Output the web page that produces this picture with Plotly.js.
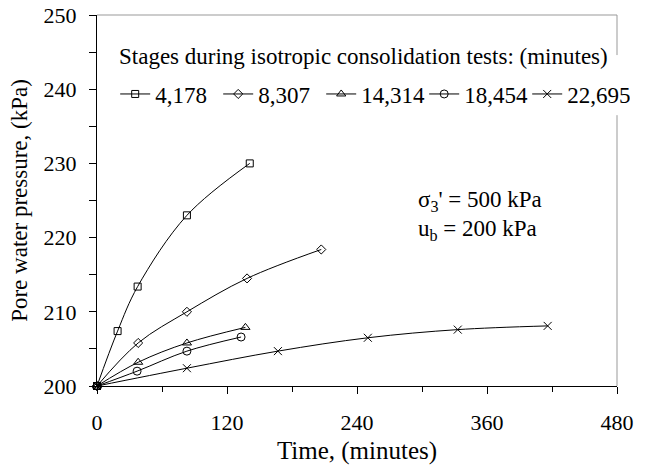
<!DOCTYPE html>
<html>
<head>
<meta charset="utf-8">
<script src="https://cdn.plot.ly/plotly-3.0.1.min.js"></script>
<style>html,body{margin:0;padding:0;background:#fff;}#chart{width:646px;height:469px;}</style>
</head>
<body>
<div id="chart"></div>
<script>
// Data
const seriesNames = ["4,178", "8,307", "14,314", "18,454", "22,695"];
const legendTitle = "Stages during isotropic consolidation tests: (minutes)";
const time1 = [0, 19, 37.5, 83, 141];
const pwp1  = [200, 207.4, 213.4, 223.0, 230.0];
const time2 = [0, 38, 83, 138.5, 207];
const pwp2  = [200, 205.8, 210.0, 214.5, 218.4];
const time3 = [0, 38, 83, 137];
const pwp3  = [200, 203.2, 205.8, 207.9];
const time4 = [0, 37, 83, 133];
const pwp4  = [200, 202.0, 204.7, 206.6];
const time5 = [0, 83, 167, 250, 333, 416];
const pwp5  = [200, 202.4, 204.7, 206.5, 207.6, 208.1];
const xTicks = [0, 120, 240, 360, 480];
const yTicks = [200, 210, 220, 230, 240, 250];

const FONT = "Liberation Serif";
const symbols = ["square-open", "diamond-open", "triangle-up-open", "circle-open", "x-thin-open"];
const sizes = [7, 7, 8, 8, 8];
const xs = [time1, time2, time3, time4, time5];
const ys = [pwp1, pwp2, pwp3, pwp4, pwp5];

const traces = xs.map((x, i) => ({
  x: x, y: ys[i], name: seriesNames[i], type: "scatter", mode: "lines+markers",
  line: {color: "#000", width: 1, shape: "spline", smoothing: 1},
  marker: {symbol: symbols[i], size: sizes[i], color: "#000", line: {color: "#000", width: 1}},
  cliponaxis: false
}));

const layout = {
  width: 646, height: 469,
  margin: {l: 97, r: 29, t: 15, b: 83, autoexpand: false},
  paper_bgcolor: "#fff", plot_bgcolor: "#fff",
  font: {family: FONT, size: 22, color: "#000"},
  showlegend: true,
  legend: {
    orientation: "h", x: 0.035, y: 0.845, xanchor: "left", yanchor: "top",
    bgcolor: "rgba(0,0,0,0)", borderwidth: 0, entrywidth: 58, entrywidthmode: "pixels",
    font: {family: FONT, size: 23, color: "#000"}
  },
  xaxis: {
    range: [0, 480], tickvals: xTicks, ticktext: xTicks.map(String),
    showgrid: false, zeroline: false, showline: true, linecolor: "#000", linewidth: 1,
    ticks: "outside", ticklen: 7, tickcolor: "#000", tickwidth: 1,
    minor: {dtick: 60, tick0: 0, ticks: "outside", ticklen: 5, tickcolor: "#000", tickwidth: 1, showgrid: false},
    ticklabelstandoff: 10, tickangle: 0, automargin: false,
    tickfont: {family: FONT, size: 22},
    title: {text: "Time, (minutes)", font: {family: FONT, size: 25}, standoff: 7}
  },
  xaxis2: {
    range: [0, 480], overlaying: "x", anchor: "y", side: "bottom",
    tickvals: xTicks, showticklabels: false, showgrid: false, zeroline: false, showline: false,
    ticks: "inside", ticklen: 7, tickcolor: "#000", tickwidth: 1
  },
  yaxis: {
    range: [200, 250], tickvals: yTicks, ticktext: yTicks.map(String),
    showgrid: false, zeroline: false, showline: true, linecolor: "#000", linewidth: 1,
    ticks: "outside", ticklen: 7, tickcolor: "#000", tickwidth: 1,
    minor: {dtick: 5, tick0: 200, ticks: "outside", ticklen: 7, tickcolor: "#000", tickwidth: 1, showgrid: false},
    ticklabelstandoff: 8, automargin: false,
    tickfont: {family: FONT, size: 22},
    title: {text: "Pore water pressure, (kPa)", font: {family: FONT, size: 23}, standoff: 9}
  },
  yaxis2: {
    range: [200, 250], overlaying: "y", anchor: "x", side: "left",
    tickvals: yTicks, showticklabels: false, showgrid: false, zeroline: false, showline: false,
    ticks: "inside", ticklen: 7, tickcolor: "#000", tickwidth: 1
  },
  shapes: [
    {type: "line", xref: "paper", yref: "paper", x0: 0, x1: 1, y0: 1, y1: 1, line: {color: "#999", width: 1}},
    {type: "line", xref: "paper", yref: "paper", x0: 1, x1: 1, y0: 0.892, y1: 1, line: {color: "#999", width: 1}},
    {type: "line", xref: "paper", yref: "paper", x0: 1, x1: 1, y0: 0, y1: 0.73, line: {color: "#999", width: 1}}
  ],
  annotations: [
    {text: legendTitle, xref: "paper", yref: "paper", x: 0.038, y: 0.888,
     xanchor: "left", yanchor: "middle", showarrow: false, font: {family: FONT, size: 23}},
    {text: "σ<sub>3</sub>' = 500 kPa", xref: "paper", yref: "paper", x: 0.613, y: 0.50,
     xanchor: "left", yanchor: "middle", showarrow: false, font: {family: FONT, size: 23}},
    {text: "u<sub>b</sub> = 200 kPa", xref: "paper", yref: "paper", x: 0.613, y: 0.42,
     xanchor: "left", yanchor: "middle", showarrow: false, font: {family: FONT, size: 23}}
  ]
};

Plotly.newPlot("chart", traces, layout, {staticPlot: true, displayModeBar: false});
</script>
</body>
</html>
